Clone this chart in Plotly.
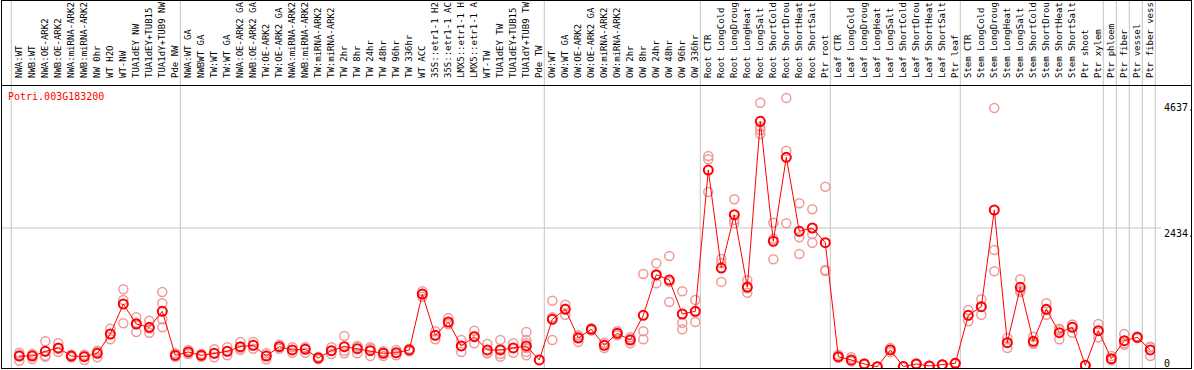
import plotly.graph_objects as go

TITLE = "Potri.003G183200"

# ---------------- data ----------------
nw_labels = ["NWA:WT", "NWB:WT", "NWA:OE-ARK2", "NWB:OE-ARK2", "NWA:miRNA-ARK2",
             "NWB:miRNA-ARK2", "NW 0hr", "WT H2O", "WT-NW", "TUA1dEY NW",
             "TUA1dEY+TUB15", "TUA1dY+TUB9 NW", "Pde NW"]
nw_means = [192, 192, 274, 333, 192, 181, 239, 578, 1103, 753, 695, 975, 204]
nw_reps = [[250, 110, 215], [228, 140, 205], [450, 180, 195], [415, 263, 320],
           [215, 170, 190], [204, 123, 215], [286, 170, 260], [670, 485, 578],
           [1360, 765, 1173], [870, 613, 775], [810, 600, 675],
           [1313, 1115, 835, 695], [240, 180, 192]]

tw_labels = ["NWA:WT GA", "NWBWT GA", "TW:WT", "TW:WT GA", "NWA:OE-ARK2 GA",
             "NWB:OE-ARK2 GA", "TW:OE-ARK2", "TW:OE-ARK2 GA", "NWA:miRNA-ARK2",
             "NWB:miRNA-ARK2", "TW:miRNA-ARK2", "TW:miRNA-ARK2", "TW 2hr", "TW 8hr",
             "TW 24hr", "TW 48hr", "TW 96hr", "TW 336hr", "WT ACC", "35S::etr1-1 H2",
             "35S::etr1-1 AC", "LMX5::etr1-1 H", "LMX5::etr1-1 A", "WT-TW",
             "TUA1dEY TW", "TUA1dEY+TUB15", "TUA1dY+TUB9 TW", "Pde TW"]
tw_means = [263, 204, 239, 274, 356, 379, 192, 356, 298, 309, 158, 286, 356, 321,
            286, 239, 251, 298, 1278, 555, 788, 368, 531, 298, 298, 333, 368, 123]
tw_reps = [[298, 228, 263], [228, 180, 204], [310, 170, 239], [345, 204, 274],
           [438, 298, 333], [438, 321, 379], [135, 240, 200], [390, 321, 356],
           [251, 345, 298], [345, 251, 330], [180, 135, 158], [345, 228, 286],
           [543, 240, 285], [368, 240, 355], [321, 192, 345], [275, 192, 250],
           [298, 204, 251], [320, 275, 298], [1325, 1231, 1278], [625, 485, 555],
           [858, 753, 753], [473, 263, 368], [636, 415, 540], [403, 240, 250],
           [473, 180, 228, 310], [415, 251, 333], [613, 473, 415, 333, 263, 204],
           [123]]

ow_labels = ["OW:WT", "OW:WT GA", "OW:OE-ARK2", "OW:OE-ARK2 GA", "OW:miRNA-ARK2",
             "OW:miRNA-ARK2", "OW 2hr", "OW 8hr", "OW 24hr", "OW 48hr", "OW 96hr",
             "OW 336hr"]
ow_means = [835, 1010, 508, 660, 380, 590, 473, 905, 1616, 1523, 928, 975]
ow_reps = [[1161, 473, 870], [1091, 916, 1020], [555, 438, 530], [680, 640, 660],
           [426, 333, 380], [625, 555, 590], [520, 415, 485], [1628, 625, 485],
           [1816, 1466, 1600], [1944, 1138, 1490], [1325, 776, 660],
           [1173, 788, 965]]

root_labels = ["Root CTR", "Root LongCold", "Root LongDroug", "Root LongHeat",
               "Root LongSalt", "Root ShortCold", "Root ShortDrou", "Root ShortHeat",
               "Root ShortSalt", "Ptr root"]
root_means = [3449, 1733, 2667, 1400, 4302, 2201, 3672, 2376, 2434, 2177]
root_reps = [[3694, 3637, 3064], [1820, 1490, 1890], [2936, 2574, 2516],
             [1520, 1300, 1380], [4628, 4208, 4150, 4080], [2527, 2246, 1886],
             [4710, 3787, 2516], [2866, 2271, 1978], [2761, 2329, 2177],
             [3157, 1700, 1680]]

leaf_labels = ["Leaf CTR", "Leaf LongCold", "Leaf LongDroug", "Leaf LongHeat",
               "Leaf LongSalt", "Leaf ShortCold", "Leaf ShortDrou", "Leaf ShortHeat",
               "Leaf ShortSalt", "Ptr leaf"]
leaf_means = [180, 123, 53, 5, 298, 8, 53, 18, 40, 65]
leaf_reps = [[215, 160, 165], [170, 100, 100], [60, 45, 55], [5, 3, 8],
             [333, 260, 300], [8, 5, 10], [60, 45, 55], [20, 15, 18],
             [45, 35, 40], [75, 55, 65]]

stem_labels = ["Stem CTR", "Stem LongCold", "Stem LongDroug", "Stem LongHeat",
               "Stem LongSalt", "Stem ShortCold", "Stem ShortDrou", "Stem ShortHeat",
               "Stem ShortSalt", "Ptr shoot", "Ptr xylem"]
stem_means = [905, 1056, 2749, 426, 1396, 450, 1010, 601, 695, 30, 636]
stem_reps = [[998, 800, 905], [1185, 916, 1060], [4535, 2049, 1676],
             [333, 508, 430], [1536, 1313, 1340], [403, 531, 420],
             [1115, 916, 1000], [648, 485, 670], [741, 601, 740], [30, 25, 35],
             [753, 520, 636]]

ptr_labels = ["Ptr phloem", "Ptr fiber", "Ptr vessel", "Ptr fiber vess"]
ptr_means = [145, 461, 520, 298]
ptr_reps = [[192, 120, 125], [578, 415, 390], [535, 505, 520], [356, 192, 345]]

y_ticks = [4637, 2434, 0]
y_tick_labels = ["4637.", "2434.", "0"]

# ---------------- assemble ----------------
groups = [(nw_labels, nw_means, nw_reps), (tw_labels, tw_means, tw_reps),
          (ow_labels, ow_means, ow_reps), (root_labels, root_means, root_reps),
          (leaf_labels, leaf_means, leaf_reps), (stem_labels, stem_means, stem_reps)]
# each Ptr tissue is its own separated column
for lab, m, r in zip(ptr_labels, ptr_means, ptr_reps):
    groups.append(([lab], [m], [r]))

labels, means, rep_x, rep_y = [], [], [], []
boundaries = [0]
for labs, ms, rs in groups:
    for lab, m, r in zip(labs, ms, rs):
        i = len(labels)
        labels.append(lab)
        means.append(m)
        rep_x.extend([i] * len(r))
        rep_y.extend(r)
    boundaries.append(len(labels))
xs = list(range(len(labels)))

# ---------------- layout geometry ----------------
W, H = 1194, 370
ML, MR, MT, MB = 11, 39, 85, 2
PW, PH = W - ML - MR, H - MT - MB
STEP = 13.0
FIRST = 19.3
x0 = (ML - FIRST) / STEP
x1 = x0 + PW / STEP
ZERO_PX = 367
PPU = 139 / 2434.0
y0 = -(H - MB - ZERO_PX) / PPU
y1 = (ZERO_PX - MT) / PPU


def px_x(p):
    return (p - ML) / PW


def px_y(p):
    return (H - MB - p) / PH


GREY = "#C4C4C4"
MONO = "DejaVu Sans Mono"

fig = go.Figure()
fig.add_trace(go.Scatter(
    x=rep_x, y=rep_y, mode="markers", hoverinfo="skip",
    marker=dict(symbol="circle-open", size=9, color="#EE9A9A",
                line=dict(width=1.5, color="#EE9A9A"))))
fig.add_trace(go.Scatter(
    x=xs, y=means, mode="lines+markers",
    line=dict(color="#FF0000", width=1),
    marker=dict(symbol="circle-open", size=9, color="#FF0000",
                line=dict(width=2, color="#FF0000"))))

shapes = []
for b in boundaries:
    xd = b - 0.615
    xp = (xd - x0) / (x1 - x0)
    shapes.append(dict(type="line", xref="paper", yref="paper",
                       x0=xp, x1=xp, y0=px_y(368), y1=px_y(0),
                       line=dict(color=GREY, width=1), layer="below"))
shapes.append(dict(type="line", xref="paper", yref="y", x0=px_x(1), x1=px_x(1161),
                   y0=y_ticks[1], y1=y_ticks[1], line=dict(color=GREY, width=1),
                   layer="below"))
BLK = dict(color="black", width=1)
shapes += [
    dict(type="line", xref="paper", yref="paper", x0=px_x(1), x1=px_x(1192),
         y0=px_y(0.5), y1=px_y(0.5), line=BLK),
    dict(type="line", xref="paper", yref="paper", x0=px_x(1), x1=px_x(1192),
         y0=px_y(85.5), y1=px_y(85.5), line=BLK),
    dict(type="line", xref="paper", yref="paper", x0=px_x(1), x1=px_x(1192),
         y0=px_y(368.5), y1=px_y(368.5), line=BLK),
    dict(type="line", xref="paper", yref="paper", x0=px_x(1.5), x1=px_x(1.5),
         y0=px_y(0), y1=px_y(369), line=BLK),
    dict(type="line", xref="paper", yref="paper", x0=px_x(1191.5), x1=px_x(1191.5),
         y0=px_y(0), y1=px_y(369), line=BLK),
]

annotations = [dict(text=TITLE, xref="paper", yref="paper", x=px_x(6), y=px_y(97),
                    xanchor="left", yanchor="middle", showarrow=False,
                    font=dict(family=MONO, size=10, color="#FF0000"))]
for v, t in zip(y_ticks, y_tick_labels):
    annotations.append(dict(text=t, xref="paper", yref="y", x=px_x(1162), y=v,
                            xanchor="left", yanchor="middle", showarrow=False,
                            yshift=(4 if v == 0 else -5),
                            font=dict(family=MONO, size=10, color="black")))

fig.update_layout(
    width=W, height=H, margin=dict(l=ML, r=MR, t=MT, b=MB, autoexpand=False),
    paper_bgcolor="white", plot_bgcolor="white", showlegend=False,
    shapes=shapes, annotations=annotations,
    xaxis=dict(range=[x0, x1], side="top", tickmode="array", tickvals=xs,
               ticktext=labels, tickangle=-90, showgrid=False, zeroline=False,
               showline=False, ticks="", ticklabelstandoff=6, automargin=False,
               tickfont=dict(family=MONO, size=9, color="black")),
    yaxis=dict(range=[y0, y1], showgrid=False, zeroline=False, showline=False,
               showticklabels=False, ticks="", automargin=False),
)

fig.write_html("out.html", config={"responsive": False, "displayModeBar": False},
               post_script="document.body.style.margin='0px';"
                           "document.body.style.overflow='hidden';")
